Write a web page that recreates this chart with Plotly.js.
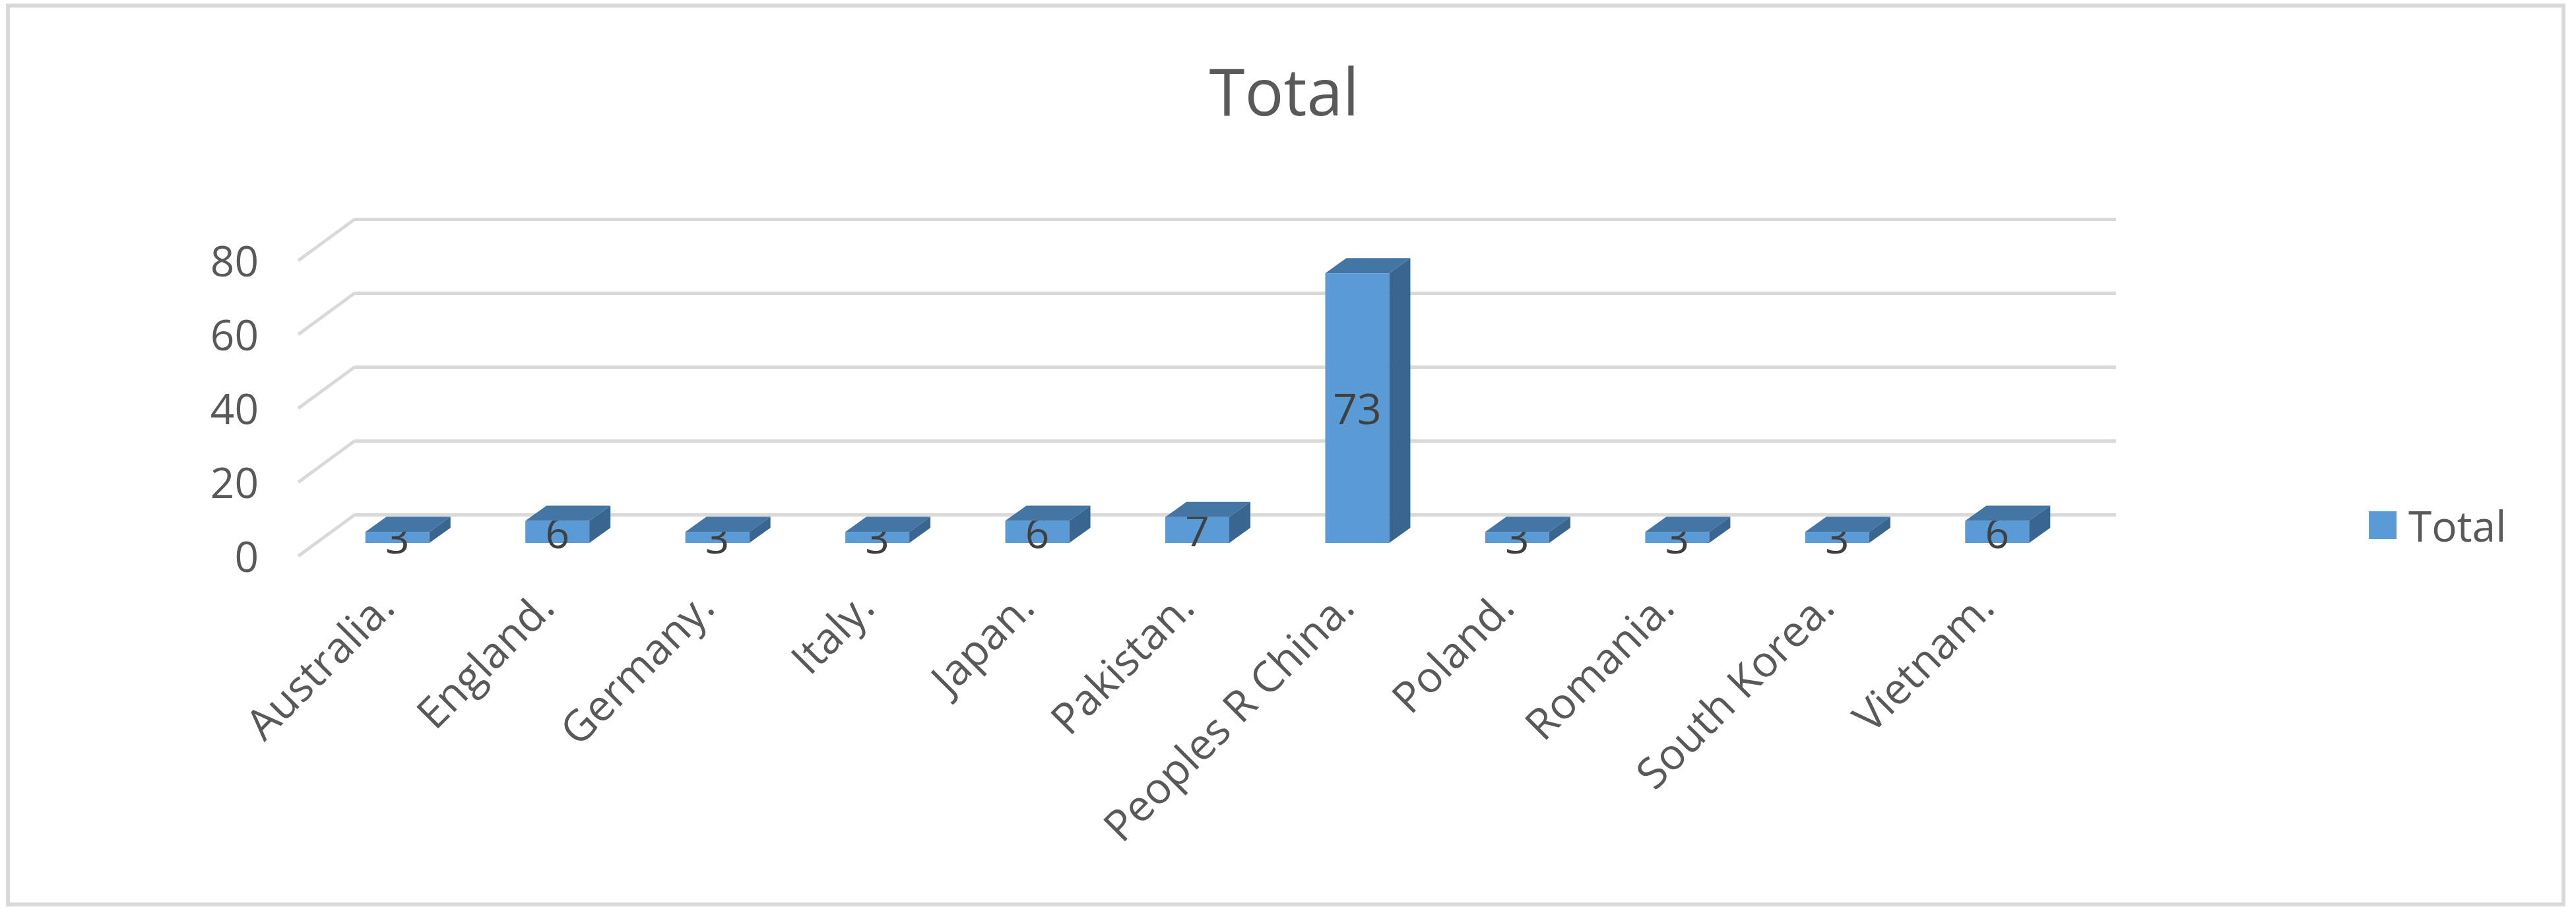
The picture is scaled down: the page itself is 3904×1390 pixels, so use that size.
<!DOCTYPE html>
<html>
<head>
<meta charset="utf-8">
<script src="https://cdn.plot.ly/plotly-3.0.1.min.js"></script>
<style>
  html, body { margin: 0; padding: 0; background: #fff; }
  #chart { width: 3904px; height: 1390px; }
</style>
</head>
<body>
<div id="chart"></div>
<script>
// Chart values
const countries = ['Australia.', 'England.', 'Germany.', 'Italy.', 'Japan.', 'Pakistan.',
  'Peoples R China.', 'Poland.', 'Romania.', 'South Korea.', 'Vietnam.'];
const totals = [3, 6, 3, 3, 6, 7, 73, 3, 3, 3, 6];
const yTicks = [0, 20, 40, 60, 80];
const seriesName = 'Total';

// Page geometry (px)
const W = 3904, H = 1390;
const plotTop = 300, plotBottom = 856;
const M = { l: 400, r: 604, t: plotTop, b: H - plotBottom };
const plotW = W - M.l - M.r;
const plotH = plotBottom - plotTop;
const pxPerUnit = 5.6;
const px2paperX = px => (px - M.l) / plotW;
const px2paperY = py => (plotBottom - py) / plotH;
// value range that puts value 0 at pixel row zeroPx
const rangeFor = zeroPx => [-(plotBottom - zeroPx) / pxPerUnit, (zeroPx - plotTop) / pxPerUnit];

// 3D look: bar plane sits between the front (labels) and the back wall (grid)
const barW = 0.4;
const depthX = 32 / 242.5;          // bar depth in category units
const depthY = 23 / pxPerUnit;      // bar depth in value units
const wallShiftX = 86, wallShiftY = 63;   // front edge -> back wall, px

const xs = countries.map((_, i) => i);

// top and side faces of each bar, built from the values
const topX = [], topY = [], sideX = [], sideY = [];
totals.forEach((v, i) => {
  const l = i - barW / 2, r = i + barW / 2;
  topX.push(l, r, r + depthX, l + depthX, l, null);
  topY.push(v, v, v + depthY, v + depthY, v, null);
  sideX.push(r, r + depthX, r + depthX, r, r, null);
  sideY.push(0, depthY, v + depthY, v, 0, null);
});

const font = 'Open Sans, Noto Sans, sans-serif';

const traces = [
  {
    x: xs, y: totals, xaxis: 'x2', yaxis: 'y2',
    type: 'bar', width: barW, name: seriesName,
    marker: { color: '#5b9bd5', line: { width: 0 } },
    text: totals.map(String),
    textposition: 'inside', insidetextanchor: 'middle',
    constraintext: 'none', textangle: 0,
    textfont: { family: font, size: 64, color: '#404040' },
    showlegend: false, hoverinfo: 'skip',
  },
  {
    x: topX, y: topY, xaxis: 'x2', yaxis: 'y2',
    type: 'scatter', mode: 'lines', fill: 'toself',
    fillcolor: '#4376a5', line: { width: 0 },
    showlegend: false, hoverinfo: 'skip',
  },
  {
    x: sideX, y: sideY, xaxis: 'x2', yaxis: 'y2',
    type: 'scatter', mode: 'lines', fill: 'toself',
    fillcolor: '#386690', line: { width: 0 },
    showlegend: false, hoverinfo: 'skip',
  },
];

// diagonal lines joining the front edge to the back gridlines
const wallLeft = 538, wallRight = 3207;
const shapes = yTicks.map(t => ({
  type: 'line', layer: 'below',
  xref: 'paper', xsizemode: 'pixel', xanchor: px2paperX(wallLeft), x0: 0, x1: -wallShiftX,
  yref: 'y', ysizemode: 'pixel', yanchor: t, y0: 0, y1: -wallShiftY,
  line: { color: '#d9d9d9', width: 5 },
}));

// chart border
shapes.push({
  type: 'rect', xref: 'paper', yref: 'paper', layer: 'below',
  x0: px2paperX(12), x1: px2paperX(3885),
  y0: px2paperY(1371), y1: px2paperY(8.5),
  line: { color: '#d9d9d9', width: 6 }, fillcolor: 'rgba(0,0,0,0)',
});

// legend swatch
shapes.push({
  type: 'rect', xref: 'paper', yref: 'paper',
  x0: px2paperX(3590), x1: px2paperX(3632),
  y0: px2paperY(817), y1: px2paperY(775),
  line: { width: 0 }, fillcolor: '#5b9bd5',
});

const layout = {
  width: W, height: H,
  margin: M,
  paper_bgcolor: '#ffffff',
  plot_bgcolor: 'rgba(0,0,0,0)',
  showlegend: false,
  title: {
    text: seriesName,
    font: { family: font, size: 98, color: '#595959' },
    x: 0.4985, xanchor: 'center',
    yref: 'container', y: 1 - 141 / H, yanchor: 'middle',
  },
  // back wall (gridlines)
  xaxis: {
    domain: [px2paperX(wallLeft), px2paperX(wallRight)],
    range: [-0.5, 10.5], anchor: 'y',
    showgrid: false, zeroline: false, showticklabels: false, showline: false,
    fixedrange: true,
  },
  yaxis: {
    domain: [0, 1], anchor: 'x',
    range: rangeFor(780),
    tickmode: 'array', tickvals: yTicks,
    showgrid: true, gridcolor: '#d9d9d9', gridwidth: 5,
    zeroline: false, showticklabels: false, showline: false,
    fixedrange: true,
  },
  // bar plane
  xaxis2: {
    domain: [px2paperX(481), px2paperX(3148)],
    range: [-0.5, 10.5], anchor: 'y2',
    tickmode: 'array', tickvals: xs, ticktext: countries,
    tickangle: -45, ticks: '', ticklabelstandoff: 12, ticklabelshift: -24,
    tickfont: { family: font, size: 65, color: '#595959' },
    showgrid: false, zeroline: false, showline: false,
    fixedrange: true,
  },
  yaxis2: {
    domain: [0, 1], anchor: 'x2',
    range: rangeFor(823),
    tickmode: 'array', tickvals: yTicks,
    ticks: '', ticklabelshift: 22, ticklabelstandoff: 88,
    tickfont: { family: font, size: 64, color: '#595959' },
    showgrid: false, zeroline: false, showline: false,
    fixedrange: true,
  },
  shapes: shapes,
  annotations: [{
    xref: 'paper', yref: 'paper',
    x: px2paperX(3648), y: px2paperY(796),
    xanchor: 'left', yanchor: 'middle',
    text: seriesName, showarrow: false,
    font: { family: font, size: 64, color: '#595959' },
  }],
};

Plotly.newPlot('chart', traces, layout, { staticPlot: true, displayModeBar: false });
</script>
</body>
</html>
